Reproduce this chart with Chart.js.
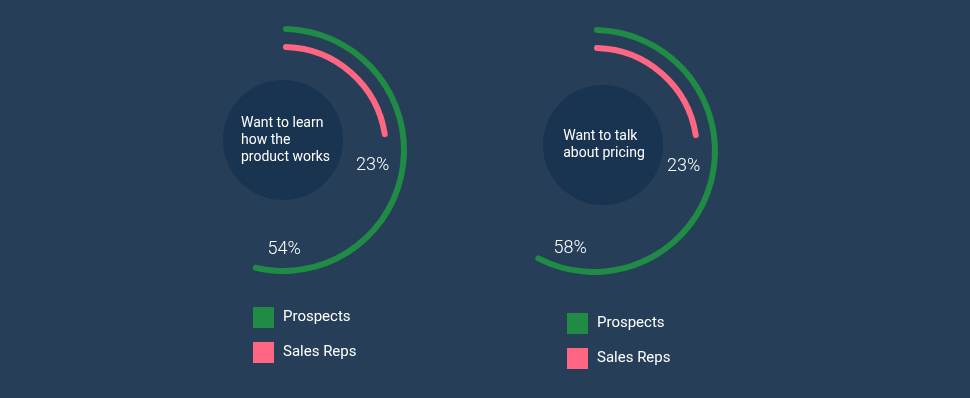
<!DOCTYPE html>
<html><head><meta charset="utf-8">
<script src="https://cdn.jsdelivr.net/npm/chart.js@4.4.0/dist/chart.umd.min.js"></script>
<style>
html,body{margin:0;padding:0;background:#263e58;}
#wrap{position:relative;width:970px;height:398px;background:#263e58;overflow:hidden;}
.panel{position:absolute;top:0;width:300px;height:398px;}
</style></head><body>
<div id="wrap">
<div class="panel" style="left:133px"><canvas id="c0"></canvas></div>
<div class="panel" style="left:444px"><canvas id="c1"></canvas></div>
</div>
<script>
// ---- data ----
const topics = [["Want to learn", "how the", "product works"], ["Want to talk", "about pricing"]];
const seriesNames = ["Prospects", "Sales Reps"];
const prospects = [54, 58];
const salesReps = [23, 23];
const scaleMax = 100;

// ---- styles ----
const GREEN = '#1f8b45';
const PINK = '#ff6682';
const CLEAR = 'rgba(0,0,0,0)';
const TEXT = '#ffffff';
Chart.defaults.font.family = 'Roboto';

const panelPlugin = {
  id: 'panel',
  beforeDatasetsDraw(chart, args, opts) {
    const ctx = chart.ctx;
    const a = chart.getDatasetMeta(0).data[0];
    const cx = a.x + opts.circleDx, cy = a.y + opts.circleDy;
    ctx.save();
    ctx.fillStyle = '#193450';
    ctx.beginPath();
    ctx.arc(cx, cy, 60, 0, Math.PI * 2);
    ctx.fill();
    ctx.font = '14px Roboto';
    ctx.fillStyle = TEXT;
    ctx.textBaseline = 'middle';
    ctx.textAlign = 'left';
    const lines = opts.lines, lh = 17;
    const maxW = Math.max(...lines.map(l => ctx.measureText(l).width));
    const x0 = cx + opts.textDx - maxW / 2;
    const y0 = cy - (lines.length - 1) * lh / 2;
    lines.forEach((l, i) => ctx.fillText(l, x0, y0 + i * lh));
    ctx.restore();
  },
  afterDatasetsDraw(chart, args, opts) {
    const ctx = chart.ctx;
    ctx.save();
    ctx.fillStyle = TEXT;
    ctx.textBaseline = 'middle';
    ctx.textAlign = 'center';
    ctx.font = '300 18px Roboto';
    let k = 0;
    chart.data.datasets.forEach((ds, i) => {
      if (!ds.label) return;
      const a = chart.getDatasetMeta(i).data[0];
      const ang = a.endAngle + opts.labelShift[k] * Math.PI / 180;
      const r = opts.labelR[k];
      ctx.fillText(ds.data[0] + '%', a.x + r * Math.cos(ang), a.y + r * Math.sin(ang));
      k++;
    });
    // legend
    const a0 = chart.getDatasetMeta(0).data[0];
    const lx = a0.x + opts.legendDx, ly = a0.y + opts.legendDy;
    ctx.textAlign = 'left';
    ctx.font = '15px Roboto';
    k = 0;
    chart.data.datasets.forEach((ds) => {
      if (!ds.label) return;
      const y = ly + k * 35;
      ctx.fillStyle = ds.backgroundColor[0];
      ctx.fillRect(lx, y, 21, 21);
      ctx.fillStyle = TEXT;
      ctx.fillText(ds.label, lx + 30, y + 10.5);
      k++;
    });
    ctx.restore();
  }
};

function makeChart(id, idx, pad, circleDx, circleDy, textDx, legendDx, legendDy) {
  return new Chart(document.getElementById(id), {
    type: 'doughnut',
    data: {
      labels: ['value', 'rest'],
      datasets: [
        { label: seriesNames[0], data: [prospects[idx], scaleMax - prospects[idx]], backgroundColor: [GREEN, CLEAR], weight: 6, borderRadius: 3 },
        { data: [], weight: 12, backgroundColor: [CLEAR] },
        { label: seriesNames[1], data: [salesReps[idx], scaleMax - salesReps[idx]], backgroundColor: [PINK, CLEAR], weight: 6, borderRadius: 3 }
      ]
    },
    options: {
      responsive: true,
      maintainAspectRatio: false,
      animation: false,
      events: [],
      cutout: 100,
      borderWidth: 0,
      layout: { padding: pad },
      elements: { arc: { borderWidth: 0 } },
      plugins: {
        legend: { display: false },
        tooltip: { enabled: false },
        panel: {
          lines: topics[idx], circleDx, circleDy, textDx,
          labelShift: [-15, 17], labelR: [100, 91],
          legendDx, legendDy
        }
      }
    },
    plugins: [panelPlugin]
  });
}

makeChart('c0', 0, { top: 26, bottom: 124, left: 26, right: 26 }, 0, -10, 2.5, -30, 157);
makeChart('c1', 1, { top: 27, bottom: 123, left: 26, right: 26 }, 9, -6, 1, -27, 162);
</script>
</body></html>
